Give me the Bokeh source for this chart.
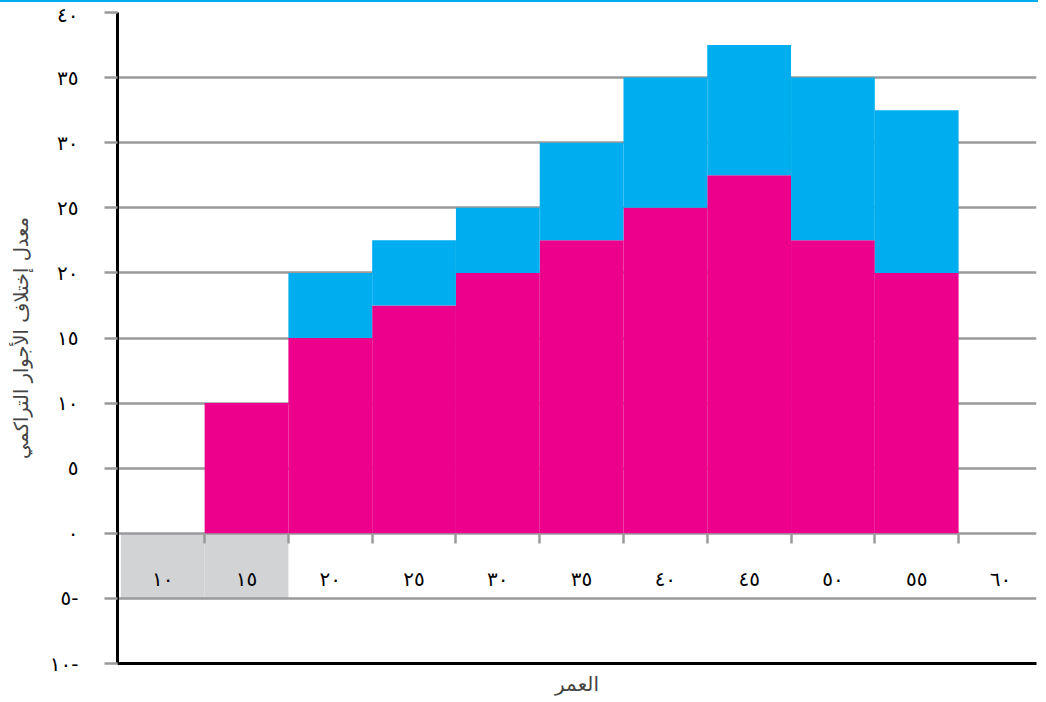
from bokeh.plotting import figure
from bokeh.models import (Range1d, FixedTicker, LinearAxis, ColumnDataSource)
from bokeh.embed import file_html
from bokeh.resources import INLINE

# ---- data ----
ages = [10, 15, 20, 25, 30, 35, 40, 45, 50, 55, 60]
age_labels = ["١٠", "١٥", "٢٠", "٢٥", "٣٠", "٣٥", "٤٠", "٤٥", "٥٠", "٥٥", "٦٠"]
bin_edges = [12.5, 17.5, 22.5, 27.5, 32.5, 37.5, 42.5, 47.5, 52.5, 57.5]
series_pink = [0, 10, 15, 17.5, 20, 22.5, 25, 27.5, 22.5, 20, 0]
series_blue = [0, 0, 5, 5, 5, 7.5, 10, 10, 12.5, 12.5, 0]
shaded_ages = [10, 15]
shade_top = 0
shade_bottom = -5
y_ticks = [-10, -5, 0, 5, 10, 15, 20, 25, 30, 35, 40]
y_labels = ["١٠-", "٥-", "٠", "٥", "١٠", "١٥", "٢٠", "٢٥", "٣٠", "٣٥", "٤٠"]
x_title = "العمر"
y_title = "معدل إختلاف الأجوار التراكمي"

PINK = "#EC008C"
BLUE = "#00AEEF"
GRID = "#9A9A9D"
SHADE = "#D1D3D4"
FONT = "DejaVu Sans"

p = figure(width=1038, height=696, output_backend="svg", toolbar_location=None,
           x_range=Range1d(7.3, 62.15), y_range=Range1d(-10, 40),
           min_border_left=117, min_border_right=2, min_border_top=10, min_border_bottom=29)
p.outline_line_color = None
p.background_fill_color = "white"
p.styles = {"border-top": "2px solid " + BLUE}

# grid
p.xgrid.visible = False
p.ygrid.ticker = FixedTicker(ticks=y_ticks)
p.ygrid.grid_line_color = GRID
p.ygrid.grid_line_width = 2.5

# shaded region (below grid)
p.vbar(x=shaded_ages, width=5, top=shade_top, bottom=shade_bottom,
       fill_color=SHADE, line_color=None, level="image")

# stacked bars
src = ColumnDataSource(dict(age=ages, pink=series_pink, blue=series_blue))
p.vbar_stack(["pink", "blue"], x="age", width=5, source=src,
             color=[PINK, BLUE], line_color=None)

# y axis
ya = p.yaxis[0]
ya.ticker = FixedTicker(ticks=y_ticks)
ya.major_label_overrides = {t: l for t, l in zip(y_ticks, y_labels)}
ya.axis_line_color = "black"
ya.axis_line_width = 3
ya.major_tick_in = 0
ya.major_tick_out = 13
ya.major_tick_line_color = GRID
ya.major_tick_line_width = 2.5
ya.minor_tick_line_color = None
ya.major_label_standoff = 26
ya.major_label_text_font = FONT
ya.major_label_text_font_size = "20px"
ya.major_label_text_color = "black"
ya.axis_label = y_title
ya.axis_label_text_font = FONT
ya.axis_label_text_font_size = "19.5px"
ya.axis_label_text_font_style = "normal"
ya.axis_label_standoff = 14

# main x axis (bottom black line + title)
xa = p.xaxis[0]
xa.ticker = FixedTicker(ticks=[])
xa.axis_line_color = "black"
xa.axis_line_width = 3
xa.major_tick_line_color = None
xa.minor_tick_line_color = None
xa.axis_label = x_title
xa.axis_label_text_font = FONT
xa.axis_label_text_font_size = "20px"
xa.axis_label_text_font_style = "normal"
xa.axis_label_standoff = 8

# bin-edge ticks at y = 0
tick_axis = LinearAxis(fixed_location=0, ticker=FixedTicker(ticks=bin_edges),
                       axis_line_color=None, major_tick_in=0, major_tick_out=10,
                       major_tick_line_color=GRID, major_tick_line_width=2.5,
                       minor_tick_line_color=None,
                       major_label_overrides={e: "" for e in bin_edges})
p.add_layout(tick_axis, "below")

# age labels sitting on the -5 line
label_axis = LinearAxis(fixed_location=-5, ticker=FixedTicker(ticks=ages),
                        major_label_overrides={a: l for a, l in zip(ages, age_labels)},
                        axis_line_color=None, major_tick_line_color=None,
                        minor_tick_line_color=None, major_label_standoff=1,
                        major_label_text_font=FONT, major_label_text_font_size="20px",
                        major_label_text_color="black")
p.add_layout(label_axis, "above")

open("out.html", "w").write(file_html(p, INLINE))
